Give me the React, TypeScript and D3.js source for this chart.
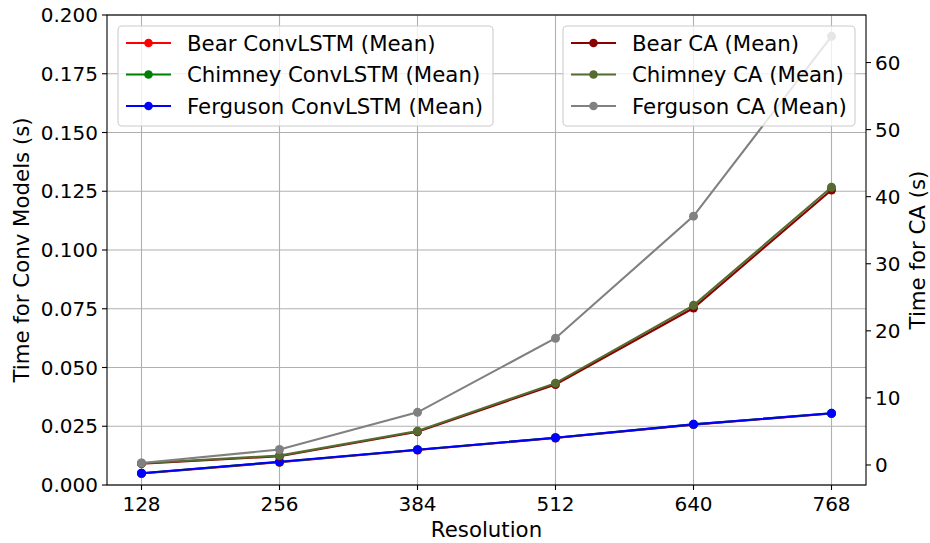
import React from "react";
import * as d3 from "d3";

const resolutions = [128, 256, 384, 512, 640, 768];
const bearConv = [0.0049, 0.0097, 0.0149, 0.0200, 0.0257, 0.0304];
const chimneyConv = [0.0050, 0.0098, 0.0150, 0.0201, 0.0258, 0.0305];
const fergusonConv = [0.0050, 0.0099, 0.0150, 0.0201, 0.0258, 0.0305];
const bearCA = [0.2, 1.3, 4.95, 12.0, 23.4, 41.0];
const chimneyCA = [0.25, 1.4, 5.05, 12.2, 23.8, 41.4];
const fergusonCA = [0.3, 2.3, 7.85, 18.9, 37.1, 63.9];
const leftTicks = [0, 0.025, 0.05, 0.075, 0.1, 0.125, 0.15, 0.175, 0.2];
const rightTicks = [0, 10, 20, 30, 40, 50, 60];

const convSeries = [
  { name: "Bear ConvLSTM (Mean)", values: bearConv, color: "#ff0000" },
  { name: "Chimney ConvLSTM (Mean)", values: chimneyConv, color: "#008000" },
  { name: "Ferguson ConvLSTM (Mean)", values: fergusonConv, color: "#0000ff" },
];
const caSeries = [
  { name: "Bear CA (Mean)", values: bearCA, color: "#8b0000" },
  { name: "Chimney CA (Mean)", values: chimneyCA, color: "#556b2f" },
  { name: "Ferguson CA (Mean)", values: fergusonCA, color: "#808080" },
];

const W = 930, H = 543;
const L = 107, R = 866, T = 15, B = 485;
const FONT = "DejaVu Sans, sans-serif";
const FS_TICK = 20;
const FS_LBL = 21.3;

export default function App() {
  const x = d3.scaleLinear().domain([96, 800]).range([L, R]);
  const yL = d3.scaleLinear().domain([0, 0.2]).range([B, T]);
  const allCA = [...bearCA, ...chimneyCA, ...fergusonCA];
  const mn = d3.min(allCA)!, mx = d3.max(allCA)!;
  const pad = (mx - mn) * 0.05;
  const yR = d3.scaleLinear().domain([mn - pad, mx + pad]).range([B, T]);

  const lineL = d3.line<number>().x((_, i) => x(resolutions[i])).y((v) => yL(v));
  const lineR = d3.line<number>().x((_, i) => x(resolutions[i])).y((v) => yR(v));

  const legend = (series: typeof convSeries, bx: number, bw: number) => (
    <g>
      <rect x={bx} y={26} width={bw} height={100} rx={4} fill="white" fillOpacity={0.8} stroke="#cccccc" strokeWidth={1.1} />
      {series.map((s, i) => {
        const cy = 43 + i * 31.5;
        return (
          <g key={s.name}>
            <line x1={bx + 8} x2={bx + 53} y1={cy} y2={cy} stroke={s.color} strokeWidth={2.1} />
            <circle cx={bx + 30.5} cy={cy} r={4.3} fill={s.color} />
            <text x={bx + 69} y={cy + 7.5} fontSize={FS_LBL} fontFamily={FONT} fill="#000">{s.name}</text>
          </g>
        );
      })}
    </g>
  );

  return (
    <svg width={W} height={H} style={{ position: "absolute", left: 0, top: 0, background: "white" }}>
      <rect x={0} y={0} width={W} height={H} fill="white" />
      {resolutions.map((r) => (
        <line key={"gx" + r} x1={x(r)} x2={x(r)} y1={T} y2={B} stroke="#b0b0b0" strokeWidth={1.1} />
      ))}
      {leftTicks.map((t) => (
        <line key={"gy" + t} x1={L} x2={R} y1={yL(t)} y2={yL(t)} stroke="#b0b0b0" strokeWidth={1.1} />
      ))}
      {convSeries.map((s) => (
        <g key={s.name}>
          <path d={lineL(s.values)!} fill="none" stroke={s.color} strokeWidth={2.1} />
          {s.values.map((v, i) => (
            <circle key={i} cx={x(resolutions[i])} cy={yL(v)} r={4.5} fill={s.color} />
          ))}
        </g>
      ))}
      {legend(convSeries, 118, 375)}
      {caSeries.map((s) => (
        <g key={s.name}>
          <path d={lineR(s.values)!} fill="none" stroke={s.color} strokeWidth={2.1} />
          {s.values.map((v, i) => (
            <circle key={i} cx={x(resolutions[i])} cy={yR(v)} r={4.5} fill={s.color} />
          ))}
        </g>
      ))}
      {legend(caSeries, 563, 292)}
      <rect x={L} y={T} width={R - L} height={B - T} fill="none" stroke="#000" strokeWidth={1.1} />
      {resolutions.map((r) => (
        <g key={"xt" + r}>
          <line x1={x(r)} x2={x(r)} y1={B} y2={B + 5} stroke="#000" strokeWidth={1.1} />
          <text x={x(r)} y={511} textAnchor="middle" fontSize={FS_TICK} fontFamily={FONT}>{r}</text>
        </g>
      ))}
      {leftTicks.map((t) => (
        <g key={"lt" + t}>
          <line x1={L - 5} x2={L} y1={yL(t)} y2={yL(t)} stroke="#000" strokeWidth={1.1} />
          <text x={L - 9} y={yL(t) + 7.2} textAnchor="end" fontSize={FS_TICK} fontFamily={FONT}>{d3.format(".3f")(t)}</text>
        </g>
      ))}
      {rightTicks.map((t) => (
        <g key={"rt" + t}>
          <line x1={R} x2={R + 5} y1={yR(t)} y2={yR(t)} stroke="#000" strokeWidth={1.1} />
          <text x={R + 9} y={yR(t) + 7.2} textAnchor="start" fontSize={FS_TICK} fontFamily={FONT}>{t}</text>
        </g>
      ))}
      <text x={(L + R) / 2} y={537} textAnchor="middle" fontSize={FS_LBL} fontFamily={FONT}>Resolution</text>
      <text transform={`translate(29, ${(T + B) / 2}) rotate(-90)`} textAnchor="middle" fontSize={FS_LBL} fontFamily={FONT}>Time for Conv Models (s)</text>
      <text transform={`translate(925, ${(T + B) / 2}) rotate(-90)`} textAnchor="middle" fontSize={FS_LBL} fontFamily={FONT}>Time for CA (s)</text>
    </svg>
  );
}
